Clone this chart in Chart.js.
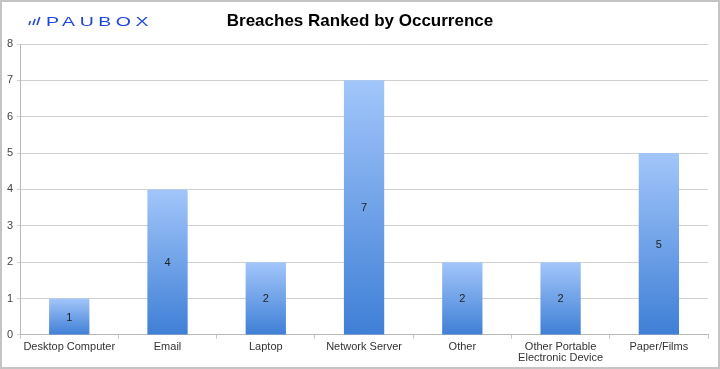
<!DOCTYPE html>
<html><head><meta charset="utf-8">
<script src="https://cdn.jsdelivr.net/npm/chart.js@4/dist/chart.umd.min.js"></script>
<style>html,body{margin:0;padding:0;background:#fff;overflow:hidden}#wrap{width:720px;height:369px;position:relative}</style>
</head><body><div id="wrap"><canvas id="c" width="720" height="369"></canvas></div>
<script>
const categories = ["Desktop Computer","Email","Laptop","Network Server","Other",["Other Portable","Electronic Device"],"Paper/Films"];
const breaches = [1,4,2,7,2,2,5];
const yTicks = [0,1,2,3,4,5,6,7,8];
const chartTitle = "Breaches Ranked by Occurrence";
const logoText = "PAUBOX";

const FONT = "'Liberation Sans', Arial, Helvetica, sans-serif";

const decor = {
  id: 'decor',
  afterDatasetsDraw(chart) {
    const ctx = chart.ctx;
    const meta = chart.getDatasetMeta(0);
    ctx.save();
    ctx.fillStyle = '#222';
    ctx.font = '11px ' + FONT;
    ctx.textAlign = 'center';
    ctx.textBaseline = 'middle';
    meta.data.forEach((bar, i) => {
      ctx.fillText(String(breaches[i]), bar.x, (bar.y + bar.base) / 2 + 1);
    });
    ctx.restore();
  },
  afterDraw(chart) {
    const ctx = chart.ctx;
    ctx.save();
    // title
    ctx.fillStyle = '#000';
    ctx.font = 'bold 17px ' + FONT;
    ctx.textAlign = 'center';
    ctx.textBaseline = 'middle';
    ctx.fillText(chartTitle, 360, 21);
    // logo
    ctx.fillStyle = '#2046d8';
    ctx.strokeStyle = '#2046d8';
    ctx.lineWidth = 1.6;
    for (let k = 0; k < 3; k++) {
      const x0 = 29 + k * 4;
      const h = 4 + k * 2;
      ctx.beginPath();
      ctx.moveTo(x0, 25);
      ctx.lineTo(x0 + h * 0.35, 25 - h);
      ctx.stroke();
    }
    ctx.font = '15px ' + FONT;
    ctx.textAlign = 'left';
    ctx.textBaseline = 'alphabetic';
    if ('letterSpacing' in ctx) ctx.letterSpacing = '3.5px';
    ctx.save();
    ctx.translate(46, 25.5);
    ctx.scale(1.3, 0.85);
    ctx.fillText(logoText, 0, 0);
    ctx.restore();
    // border
    ctx.strokeStyle = '#c4c4c4';
    ctx.lineWidth = 2;
    ctx.strokeRect(1, 1, 718, 367);
    ctx.restore();
  }
};

new Chart(document.getElementById('c'), {
  type: 'bar',
  data: {
    labels: categories,
    datasets: [{
      data: breaches,
      backgroundColor(context) {
        const chart = context.chart;
        const y = chart.scales.y;
        if (!y || !chart.chartArea) return '#6a9fe8';
        const top = y.getPixelForValue(context.raw);
        const base = y.getPixelForValue(0);
        const g = chart.ctx.createLinearGradient(0, top, 0, base);
        g.addColorStop(0, '#a2c6fa');
        g.addColorStop(1, '#3f7fd6');
        return g;
      },
      borderWidth: 0,
      barPercentage: 0.41,
      categoryPercentage: 1.0
    }]
  },
  options: {
    responsive: false,
    animation: false,
    devicePixelRatio: 1,
    layout: { padding: { top: 44, right: 12, left: 3, bottom: 3 } },
    plugins: { legend: { display: false }, tooltip: { enabled: false }, title: { display: false } },
    scales: {
      x: {
        offset: true,
        grid: { offset: true, drawOnChartArea: false, drawTicks: true, tickLength: 4, color: '#c8c8c8' },
        border: { color: '#b8b8b8', width: 1 },
        ticks: { color: '#333', font: { family: FONT, size: 11, lineHeight: 1.05 }, maxRotation: 0, autoSkip: false, padding: 2 }
      },
      y: {
        min: 0, max: 8,
        afterBuildTicks(axis) { axis.ticks = yTicks.map(v => ({ value: v })); },
        grid: { color: '#d0d0d0', tickLength: 3, lineWidth: 1 },
        border: { color: '#b8b8b8', width: 1 },
        ticks: { color: '#444', font: { family: FONT, size: 11 }, padding: 4 }
      }
    }
  },
  plugins: [decor]
});
</script></body></html>
